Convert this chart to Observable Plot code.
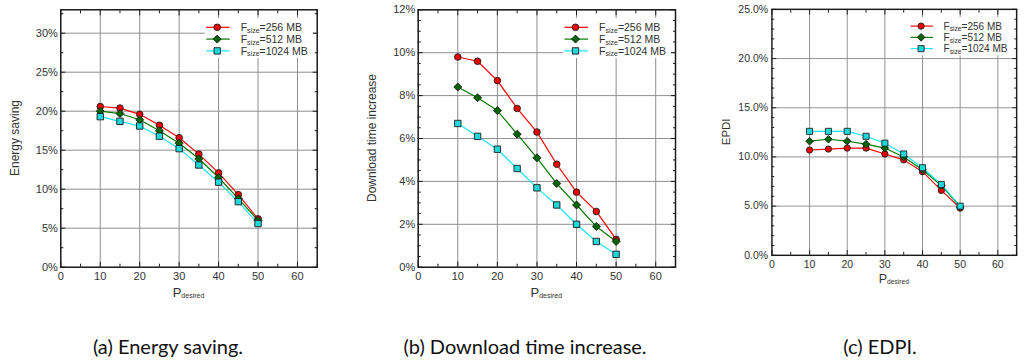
<!DOCTYPE html>
<html><head><meta charset="utf-8">
<script src="https://cdn.jsdelivr.net/npm/d3@7"></script>
<script src="https://cdn.jsdelivr.net/npm/@observablehq/plot@0.6"></script>
<style>
html,body{margin:0;padding:0;background:#fff;}
body{width:1024px;height:363px;overflow:hidden;position:relative;}
.panel{position:absolute;top:0;}
.cap{position:absolute;top:336px;font-family:Lato,"Open Sans",sans-serif;font-size:20px;line-height:20px;color:#111;white-space:nowrap;transform:translateX(-50%);}
</style></head><body>
<div id="p1" class="panel" style="left:0px"></div>
<div id="p2" class="panel" style="left:340px"></div>
<div id="p3" class="panel" style="left:680px"></div>
<div class="cap" style="left:168px">(a) Energy saving.</div>
<div class="cap" style="left:525px">(b) Download time increase.</div>
<div class="cap" style="left:880px">(c) EDPI.</div>
<script>
// ---- data ----
const pDesired = [10, 15, 20, 25, 30, 35, 40, 45, 50];
const seriesNames = ["256 MB", "512 MB", "1024 MB"];

const energy256  = [20.6, 20.4, 19.6, 18.2, 16.6, 14.5, 12.1, 9.3, 6.2];
const energy512  = [20.0, 19.7, 18.9, 17.5, 15.9, 13.9, 11.5, 8.8, 6.0];
const energy1024 = [19.3, 18.7, 18.1, 16.8, 15.2, 13.1, 10.9, 8.4, 5.6];

const dl256  = [9.8, 9.6, 8.7, 7.4, 6.3, 4.8, 3.5, 2.6, 1.3];
const dl512  = [8.4, 7.9, 7.3, 6.2, 5.1, 3.9, 2.9, 1.9, 1.2];
const dl1024 = [6.7, 6.1, 5.5, 4.6, 3.7, 2.9, 2.0, 1.2, 0.6];

const epdi256  = [10.7, 10.8, 10.9, 10.9, 10.3, 9.7, 8.5, 6.6, 4.8];
const epdi512  = [11.6, 11.8, 11.6, 11.3, 10.9, 10.0, 8.7, 7.1, 4.9];
const epdi1024 = [12.6, 12.6, 12.6, 12.1, 11.4, 10.3, 8.9, 7.2, 5.0];

const xTicks = [0, 10, 20, 30, 40, 50, 60];
const xMinorTicks = [5, 15, 25, 35, 45, 55, 65];
const yTicksEnergy = [0, 5, 10, 15, 20, 25, 30];
const yMinorEnergy = [2.5, 7.5, 12.5, 17.5, 22.5, 27.5, 32.5];
const yTicksDl = [0, 2, 4, 6, 8, 10, 12];
const yMinorDl = [0.5, 1, 1.5, 2.5, 3, 3.5, 4.5, 5, 5.5, 6.5, 7, 7.5, 8.5, 9, 9.5, 10.5, 11, 11.5];
const yTicksEpdi = [0, 5, 10, 15, 20, 25];
const yMinorEpdi = [1,2,3,4,6,7,8,9,11,12,13,14,16,17,18,19,21,22,23,24];

const xLabelMain = "P", xLabelSub = "desired";
const legendMain = "F", legendSub = "size";

// ---- style ----
const lineColors = ["#ff0000", "#007a00", "#19e6ec"];
const markerFills = ["#ee0000", "#006400", "#1fd8dc"];
const symbols = ["circle", "diamond2", "square"];
const d3symbols = [d3.symbolCircle, d3.symbolDiamond2, d3.symbolSquare];
const markerR = [3.3, 3.6, 3.6];
const gridColor = "#8f8f8f";
const axisColor = "#1a1a1a";
const textColor = "#333";
const FONT = "'Liberation Sans', Arial, sans-serif";

function panel(el, cfg) {
  const H = 300, mt = 9.3, mb = 33.3;
  const marks = [
    Plot.gridX(xTicks.filter(d => d > 0), {stroke: gridColor, strokeOpacity: 1, strokeWidth: 1}),
    Plot.gridY(cfg.yTicks.filter(d => d > 0), {stroke: gridColor, strokeOpacity: 1, strokeWidth: 1}),
  ];
  cfg.values.forEach((vals, si) => {
    const data = vals.map((v, i) => ({p: pDesired[i], v}));
    marks.push(Plot.line(data, {x: "p", y: "v", stroke: lineColors[si], strokeWidth: 1.2}));
  });
  cfg.values.forEach((vals, si) => {
    const data = vals.map((v, i) => ({p: pDesired[i], v}));
    marks.push(Plot.dot(data, {x: "p", y: "v", symbol: symbols[si], r: markerR[si], fill: markerFills[si], stroke: "#1a1a1a", strokeWidth: 0.9}));
  });
  const blank = () => "";
  marks.push(
    Plot.frame({stroke: axisColor, strokeWidth: 1.5}),
    Plot.axisX(xTicks, {anchor: "bottom", tickSize: 0, tickPadding: 5, fontSize: 11, fill: textColor, label: null}),
    Plot.axisX(xTicks, {anchor: "bottom", tickSize: -5, tickFormat: blank, stroke: axisColor, label: null}),
    Plot.axisX(xMinorTicks, {anchor: "bottom", tickSize: -3, tickFormat: blank, stroke: axisColor, label: null}),
    Plot.axisX(xTicks, {anchor: "top", tickSize: -5, tickFormat: blank, stroke: axisColor, label: null}),
    Plot.axisX(xMinorTicks, {anchor: "top", tickSize: -3, tickFormat: blank, stroke: axisColor, label: null}),
    Plot.axisY(cfg.yTicks, {anchor: "left", tickSize: 0, tickPadding: cfg.pad, fontSize: 11, fill: textColor, tickFormat: cfg.fmt, label: null}),
    Plot.axisY(cfg.yTicks, {anchor: "left", tickSize: -5, tickFormat: blank, stroke: axisColor, label: null}),
    Plot.axisY(cfg.yMinor, {anchor: "left", tickSize: -3, tickFormat: blank, stroke: axisColor, label: null}),
    Plot.axisY(cfg.yTicks, {anchor: "right", tickSize: -5, tickFormat: blank, stroke: axisColor, label: null}),
    Plot.axisY(cfg.yMinor, {anchor: "right", tickSize: -3, tickFormat: blank, stroke: axisColor, label: null})
  );
  const svg = Plot.plot({
    width: cfg.width, height: H,
    marginLeft: cfg.ml, marginRight: cfg.mr, marginTop: mt, marginBottom: mb,
    style: {background: "transparent", color: textColor, fontFamily: FONT, fontSize: "11px", overflow: "visible"},
    x: {domain: [0, 65], label: null},
    y: {domain: cfg.yDomain, label: null},
    marks
  });
  el.appendChild(svg);

  const s = d3.select(svg);
  const right = cfg.width - cfg.mr;
  const cx = (cfg.ml + right) / 2;
  // y title
  s.append("text")
    .attr("transform", `translate(${cfg.ml - cfg.titleOff},${(mt + H - mb) / 2}) rotate(-90)`)
    .attr("text-anchor", "middle").attr("dy", "0.35em")
    .attr("font-family", FONT).attr("font-size", 12).attr("fill", textColor)
    .text(cfg.yTitle);
  // x title with subscript
  const xt = s.append("text")
    .attr("x", cx).attr("y", 296.5).attr("text-anchor", "middle")
    .attr("font-family", FONT).attr("font-size", 13).attr("fill", textColor);
  xt.append("tspan").text(xLabelMain);
  xt.append("tspan").attr("font-size", 7).attr("dy", 1).text(xLabelSub);

  // legend
  const lg = s.append("g");
  lg.append("rect").attr("x", right - 112).attr("y", 18).attr("width", 108).attr("height", 40).attr("fill", "#fff");
  seriesNames.forEach((name, i) => {
    const y = 27.3 + 11.8 * i;
    lg.append("line").attr("x1", right - 110.5).attr("x2", right - 87).attr("y1", y).attr("y2", y)
      .attr("stroke", lineColors[i]).attr("stroke-width", 1.2);
    lg.append("path").attr("transform", `translate(${right - 99.5},${y})`)
      .attr("d", d3.symbol(d3symbols[i], Math.PI * markerR[i] * markerR[i])())
      .attr("fill", markerFills[i]).attr("stroke", "#1a1a1a").attr("stroke-width", 0.9);
    const t = lg.append("text").attr("x", right - 76).attr("y", y + 4).attr("text-anchor", "start")
      .attr("font-family", FONT).attr("font-size", 10.5).attr("fill", textColor);
    t.append("tspan").text(legendMain);
    t.append("tspan").attr("font-size", 7).attr("dy", 1.5).text(legendSub);
    t.append("tspan").attr("dy", -1.5).text("=" + name);
  });
}

panel(document.getElementById("p1"), {
  width: 340, ml: 60.3, mr: 23.3, yDomain: [0, 33], yTicks: yTicksEnergy, yMinor: yMinorEnergy,
  fmt: d => d + "%", pad: 3, titleOff: 45.3, yTitle: "Energy saving",
  values: [energy256, energy512, energy1024]
});
panel(document.getElementById("p2"), {
  width: 340, ml: 77.7, mr: 5, yDomain: [0, 12], yTicks: yTicksDl, yMinor: yMinorDl,
  fmt: d => d + "%", pad: 3, titleOff: 46, yTitle: "Download time increase",
  values: [dl256, dl512, dl1024]
});
panel(document.getElementById("p3"), {
  width: 360, ml: 95.7, mr: 8.2, yDomain: [0, 25], yTicks: yTicksEpdi, yMinor: yMinorEpdi,
  fmt: d => d.toFixed(1) + "%", pad: 4, titleOff: 47.4, yTitle: "EPDI",
  values: [epdi256, epdi512, epdi1024]
});
</script>
</body></html>
